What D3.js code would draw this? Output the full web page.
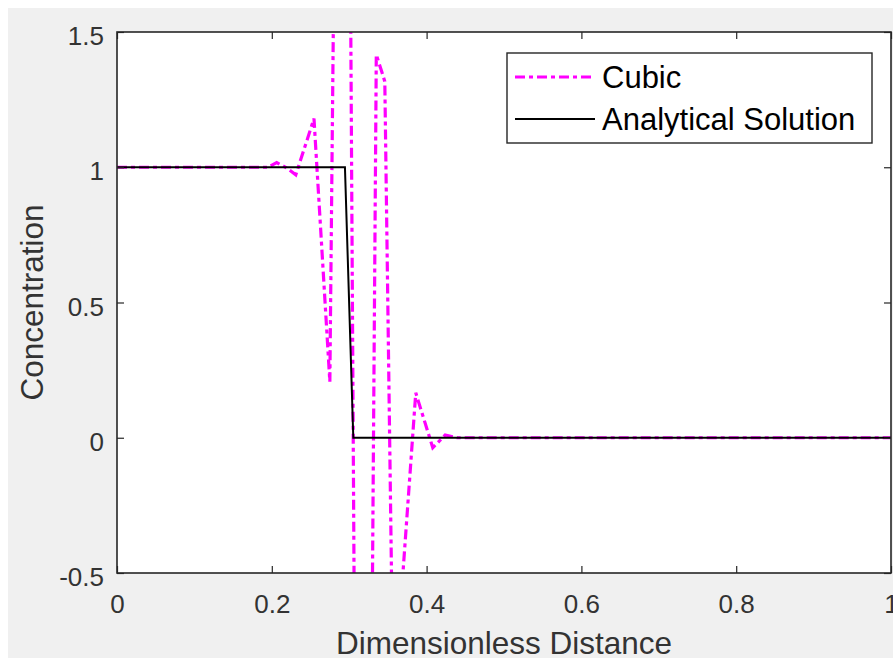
<!DOCTYPE html>
<html>
<head>
<meta charset="utf-8">
<script src="https://cdn.jsdelivr.net/npm/d3@7"></script>
<style>
  html, body { margin: 0; padding: 0; background: #ffffff; }
  svg { display: block; }
  text { font-family: "Liberation Sans", Arial, sans-serif; }
</style>
</head>
<body>
<svg id="chart" width="893" height="658"></svg>
<script>
// ---- data ----
const cubicX = [0, 0.195, 0.2063, 0.219, 0.231, 0.2545, 0.275, 0.2935, 0.317, 0.335, 0.342, 0.346, 0.357, 0.386, 0.408, 0.424, 0.44, 1];
const cubicY = [1, 1, 1.017, 0.998, 0.972, 1.18, 0.207, 5.6, -5.65, 1.416, 1.354, 1.317, -1.0, 0.166, -0.037, 0.01, 0, 0];
const analyticX = [0, 0.2945, 0.3053, 1];
const analyticY = [1, 1, 0, 0];
const xTicks = [0, 0.2, 0.4, 0.6, 0.8, 1];
const xTickLabels = ["0", "0.2", "0.4", "0.6", "0.8", "1"];
const yTicks = [-0.5, 0, 0.5, 1, 1.5];
const yTickLabels = ["-0.5", "0", "0.5", "1", "1.5"];
const seriesNames = ["Cubic", "Analytical Solution"];
const xLabel = "Dimensionless Distance";
const yLabel = "Concentration";

// ---- layout ----
const L = 117, R = 891, T = 32, B = 573;
const axisColor = "#262626";
const textColor = "#333333";
const svg = d3.select("#chart");

svg.append("rect").attr("x", 8).attr("y", 8).attr("width", 885).attr("height", 650).attr("fill", "#f0f0f0");
svg.append("rect").attr("x", L).attr("y", T).attr("width", R - L).attr("height", B - T).attr("fill", "#ffffff");

const x = d3.scaleLinear().domain([0, 1]).range([L, R]);
const y = d3.scaleLinear().domain([-0.5, 1.5]).range([B, T]);

svg.append("defs").append("clipPath").attr("id", "clip")
  .append("rect").attr("x", L).attr("y", T).attr("width", R - L).attr("height", B - T);

const line = d3.line().x(d => x(d[0])).y(d => y(d[1]));
const cubicData = cubicX.map((v, i) => [v, cubicY[i]]);
const analyticData = analyticX.map((v, i) => [v, analyticY[i]]);

const plot = svg.append("g").attr("clip-path", "url(#clip)");
plot.append("path").datum(cubicData).attr("d", line)
  .attr("fill", "none").attr("stroke", "#ff00ff").attr("stroke-width", 3.2)
  .attr("stroke-dasharray", "10,4,4,4");
plot.append("path").datum(analyticData).attr("d", line)
  .attr("fill", "none").attr("stroke", "#000000").attr("stroke-width", 2);

// ---- axes ----
const tickLen = 7;
function styleAxis(g) {
  g.select(".domain").remove();
  g.selectAll(".tick line").attr("stroke", axisColor).attr("stroke-width", 1.2);
  g.selectAll("text").attr("fill", textColor).style("font-size", "26px")
    .style("font-family", '"Liberation Sans", Arial, sans-serif');
}
const gx = svg.append("g").attr("transform", `translate(0,${B})`)
  .call(d3.axisBottom(x).tickValues(xTicks).tickFormat((d, i) => xTickLabels[i]).tickSize(-tickLen));
styleAxis(gx);
gx.selectAll("text").attr("y", 40).attr("dy", null);

const gxt = svg.append("g").attr("transform", `translate(0,${T})`)
  .call(d3.axisTop(x).tickValues(xTicks).tickFormat("").tickSize(-tickLen));
styleAxis(gxt);

const gy = svg.append("g").attr("transform", `translate(${L},0)`)
  .call(d3.axisLeft(y).tickValues(yTicks).tickFormat((d, i) => yTickLabels[i]).tickSize(-tickLen));
styleAxis(gy);
gy.selectAll("text").attr("x", -13).attr("y", 3.5).attr("dy", "0.35em");

const gyr = svg.append("g").attr("transform", `translate(${R},0)`)
  .call(d3.axisRight(y).tickValues(yTicks).tickFormat("").tickSize(-tickLen));
styleAxis(gyr);

svg.append("rect").attr("x", L).attr("y", T).attr("width", R - L).attr("height", B - T)
  .attr("fill", "none").attr("stroke", axisColor).attr("stroke-width", 1.6);

// ---- axis labels ----
svg.append("text").attr("x", (L + R) / 2).attr("y", 654).attr("text-anchor", "middle")
  .attr("fill", textColor).style("font-size", "31.5px").text(xLabel);
svg.append("text").attr("transform", `translate(43,${(T + B) / 2}) rotate(-90)`)
  .attr("text-anchor", "middle").attr("fill", textColor).style("font-size", "31.5px").text(yLabel);

// ---- legend ----
const lg = svg.append("g");
lg.append("rect").attr("x", 507).attr("y", 53).attr("width", 365).attr("height", 90)
  .attr("fill", "#ffffff").attr("stroke", axisColor).attr("stroke-width", 1.4);
const legendRows = [
  { name: seriesNames[0], color: "#ff00ff", width: 3.2, dash: "10,4,4,4", y: 77 },
  { name: seriesNames[1], color: "#000000", width: 2, dash: null, y: 119 }
];
legendRows.forEach(r => {
  lg.append("line").attr("x1", 515).attr("x2", 595).attr("y1", r.y).attr("y2", r.y)
    .attr("stroke", r.color).attr("stroke-width", r.width).attr("stroke-dasharray", r.dash);
  lg.append("text").attr("x", 602).attr("y", r.y).attr("dy", "0.36em")
    .attr("fill", "#000000").style("font-size", "31px").text(r.name);
});
</script>
</body>
</html>
